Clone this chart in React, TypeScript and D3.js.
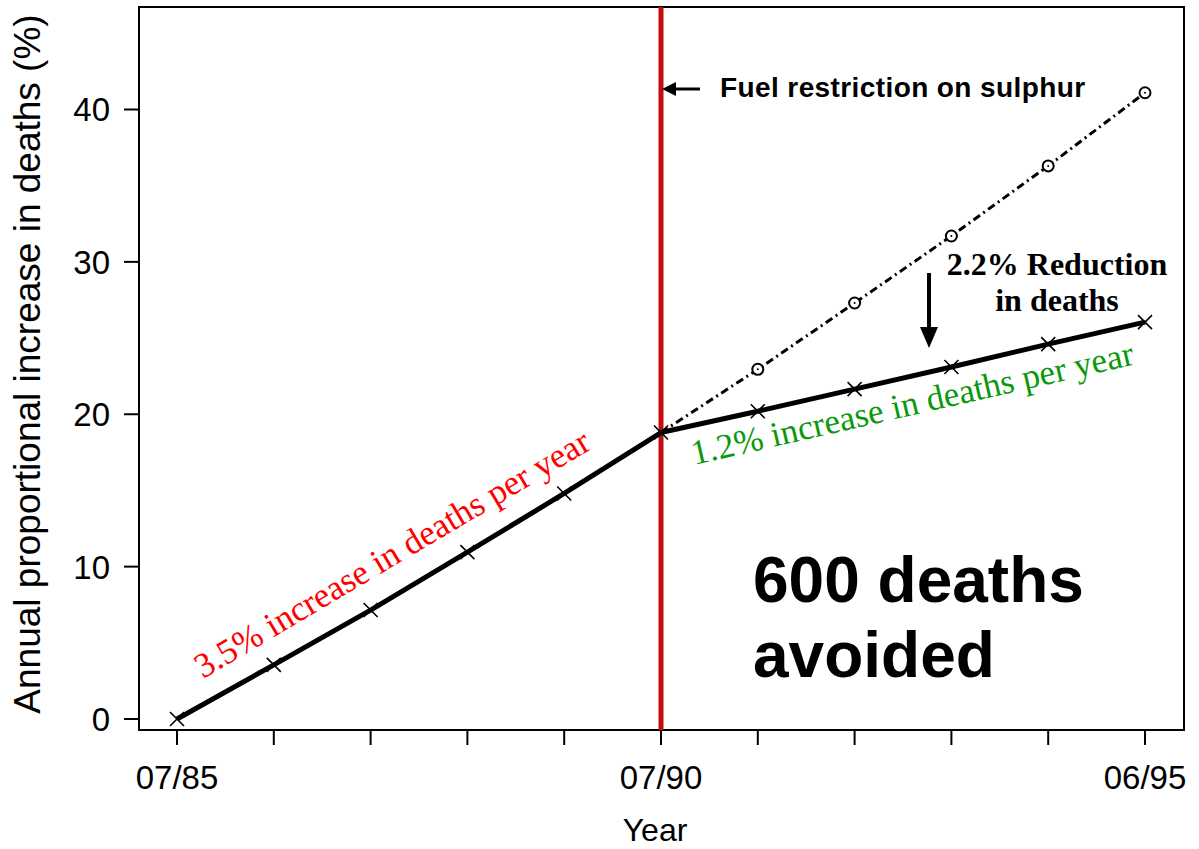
import { useEffect, useRef } from 'react'
import * as d3 from 'd3'

const W = 1199
const H = 849

// year index 0..10 (07/85 .. 06/95)
const yearIdx = [0, 1, 2, 3, 4, 5, 6, 7, 8, 9, 10]
const yearLabels = ['07/85', '', '', '', '', '07/90', '', '', '', '', '06/95']
// observed trend (x markers)
const observed = [0, 3.55, 7.15, 10.95, 14.8, 18.8, 20.2, 21.65, 23.1, 24.6, 26.05]
// projected trend without the fuel restriction (circles)
const projectedIdx = [5, 6, 7, 8, 9, 10]
const projected = [18.8, 22.95, 27.3, 31.7, 36.3, 41.1]
const yTicks = [0, 10, 20, 30, 40]
const interventionIdx = 5

const SANS = '"Liberation Sans", Arial, Helvetica, sans-serif'
const SERIF = '"Liberation Serif", "Times New Roman", Times, serif'

const App = () => {
    const svgRef = useRef<SVGSVGElement>(null)

    useEffect(() => {
        document.body.style.margin = '0'
        if (!svgRef.current) return
        const svg = d3.select(svgRef.current)
        svg.selectAll('*').remove()

        const frame = { left: 139, top: 7, right: 1184, bottom: 730 }

        const x = d3.scaleLinear().domain([0, 10]).range([177, 1145])
        const y = d3.scaleLinear().domain([0, 40]).range([719, 109.5])

        svg.append('rect')
            .attr('width', W)
            .attr('height', H)
            .attr('fill', '#fff')

        // plot frame
        svg.append('rect')
            .attr('x', frame.left)
            .attr('y', frame.top)
            .attr('width', frame.right - frame.left)
            .attr('height', frame.bottom - frame.top)
            .attr('fill', 'none')
            .attr('stroke', '#000')
            .attr('stroke-width', 2)

        // y ticks + labels
        const yg = svg.append('g')
        yTicks.forEach(t => {
            yg.append('line')
                .attr('x1', frame.left - 15)
                .attr('x2', frame.left)
                .attr('y1', y(t))
                .attr('y2', y(t))
                .attr('stroke', '#000')
                .attr('stroke-width', 2)
            yg.append('text')
                .attr('x', 110)
                .attr('y', y(t))
                .attr('dy', '0.36em')
                .attr('text-anchor', 'end')
                .attr('font-family', SANS)
                .attr('font-size', 33)
                .text(t)
        })

        // x ticks + labels
        const xg = svg.append('g')
        yearIdx.forEach((d, i) => {
            xg.append('line')
                .attr('x1', x(d))
                .attr('x2', x(d))
                .attr('y1', frame.bottom)
                .attr('y2', frame.bottom + 15)
                .attr('stroke', '#000')
                .attr('stroke-width', 2)
            if (yearLabels[i]) {
                xg.append('text')
                    .attr('x', x(d))
                    .attr('y', 789)
                    .attr('text-anchor', 'middle')
                    .attr('font-family', SANS)
                    .attr('font-size', 33)
                    .text(yearLabels[i])
            }
        })

        svg.append('text')
            .attr('x', 655)
            .attr('y', 841)
            .attr('text-anchor', 'middle')
            .attr('font-family', SANS)
            .attr('font-size', 32)
            .text('Year')

        svg.append('text')
            .attr('transform', 'translate(40,364) rotate(-90)')
            .attr('text-anchor', 'middle')
            .attr('font-family', SANS)
            .attr('font-size', 37)
            .text('Annual proportional increase in deaths (%)')

        // intervention line
        svg.append('line')
            .attr('x1', x(interventionIdx))
            .attr('x2', x(interventionIdx))
            .attr('y1', frame.top)
            .attr('y2', frame.bottom)
            .attr('stroke', '#c40c0c')
            .attr('stroke-width', 5)

        // projected (dash-dot)
        const projPts = projectedIdx.map((d, i) => ({ x: d, y: projected[i] }))
        const line = d3
            .line<{ x: number; y: number }>()
            .x(d => x(d.x))
            .y(d => y(d.y))
        svg.append('path')
            .datum(projPts)
            .attr('fill', 'none')
            .attr('stroke', '#000')
            .attr('stroke-width', 3)
            .attr('stroke-dasharray', '8,4,2,4')
            .attr('d', line)

        // observed (solid)
        const obsPts = yearIdx.map((d, i) => ({ x: d, y: observed[i] }))
        svg.append('path')
            .datum(obsPts)
            .attr('fill', 'none')
            .attr('stroke', '#000')
            .attr('stroke-width', 5)
            .attr('stroke-linejoin', 'round')
            .attr('d', line)

        // x markers
        const s = 7
        obsPts.forEach(p => {
            const cx = x(p.x)
            const cy = y(p.y)
            svg.append('path')
                .attr('d', `M${cx - s},${cy - s}L${cx + s},${cy + s}M${cx - s},${cy + s}L${cx + s},${cy - s}`)
                .attr('stroke', '#000')
                .attr('stroke-width', 1.6)
        })

        // circle markers (skip the shared start point)
        projPts.slice(1).forEach(p => {
            svg.append('circle')
                .attr('cx', x(p.x))
                .attr('cy', y(p.y))
                .attr('r', 5.5)
                .attr('fill', '#fff')
                .attr('stroke', '#000')
                .attr('stroke-width', 2)
            svg.append('circle')
                .attr('cx', x(p.x))
                .attr('cy', y(p.y))
                .attr('r', 1)
                .attr('fill', '#000')
        })

        // slope labels aligned with the segments
        const angA =
            (Math.atan2(y(observed[0]) - y(observed[5]), x(5) - x(0)) * 180) / Math.PI
        const angB =
            (Math.atan2(y(observed[5]) - y(observed[10]), x(10) - x(5)) * 180) / Math.PI

        svg.append('text')
            .attr('transform', `translate(203,679) rotate(${-angA})`)
            .attr('font-family', SERIF)
            .attr('font-size', 35)
            .attr('fill', '#ff0000')
            .text('3.5% increase in deaths per year')

        svg.append('text')
            .attr('transform', `translate(694,465) rotate(${-angB})`)
            .attr('font-family', SERIF)
            .attr('font-size', 35)
            .attr('fill', '#0a990a')
            .text('1.2% increase in deaths per year')

        // fuel restriction annotation
        svg.append('line')
            .attr('x1', x(interventionIdx) + 12)
            .attr('x2', 700)
            .attr('y1', 89)
            .attr('y2', 89)
            .attr('stroke', '#000')
            .attr('stroke-width', 3)
        svg.append('path')
            .attr('d', `M${x(interventionIdx) + 1},89L${x(interventionIdx) + 15},82L${x(interventionIdx) + 15},96Z`)
            .attr('fill', '#000')
        svg.append('text')
            .attr('x', 720)
            .attr('y', 97)
            .attr('font-family', SANS)
            .attr('font-weight', 'bold')
            .attr('font-size', 28)
            .attr('letter-spacing', 0.4)
            .text('Fuel restriction on sulphur')

        // reduction annotation
        svg.append('line')
            .attr('x1', 929)
            .attr('x2', 929)
            .attr('y1', 273)
            .attr('y2', 330)
            .attr('stroke', '#000')
            .attr('stroke-width', 4)
        svg.append('path')
            .attr('d', 'M920,327L938,327L929,348Z')
            .attr('fill', '#000')
        const red = svg.append('text')
            .attr('font-family', SERIF)
            .attr('font-weight', 'bold')
            .attr('font-size', 32)
            .attr('text-anchor', 'middle')
        red.append('tspan').attr('x', 1057).attr('y', 275).text('2.2% Reduction')
        red.append('tspan').attr('x', 1057).attr('y', 311).text('in deaths')

        // big callout
        const big = svg.append('text')
            .attr('font-family', SANS)
            .attr('font-weight', 'bold')
            .attr('font-size', 64)
        big.append('tspan').attr('x', 753).attr('y', 602).text('600 deaths')
        big.append('tspan').attr('x', 753).attr('y', 677).text('avoided')
    }, [])

    return (
        <svg
            ref={svgRef}
            width={W}
            height={H}
            style={{ display: 'block' }}
        ></svg>
    )
}

export default App
